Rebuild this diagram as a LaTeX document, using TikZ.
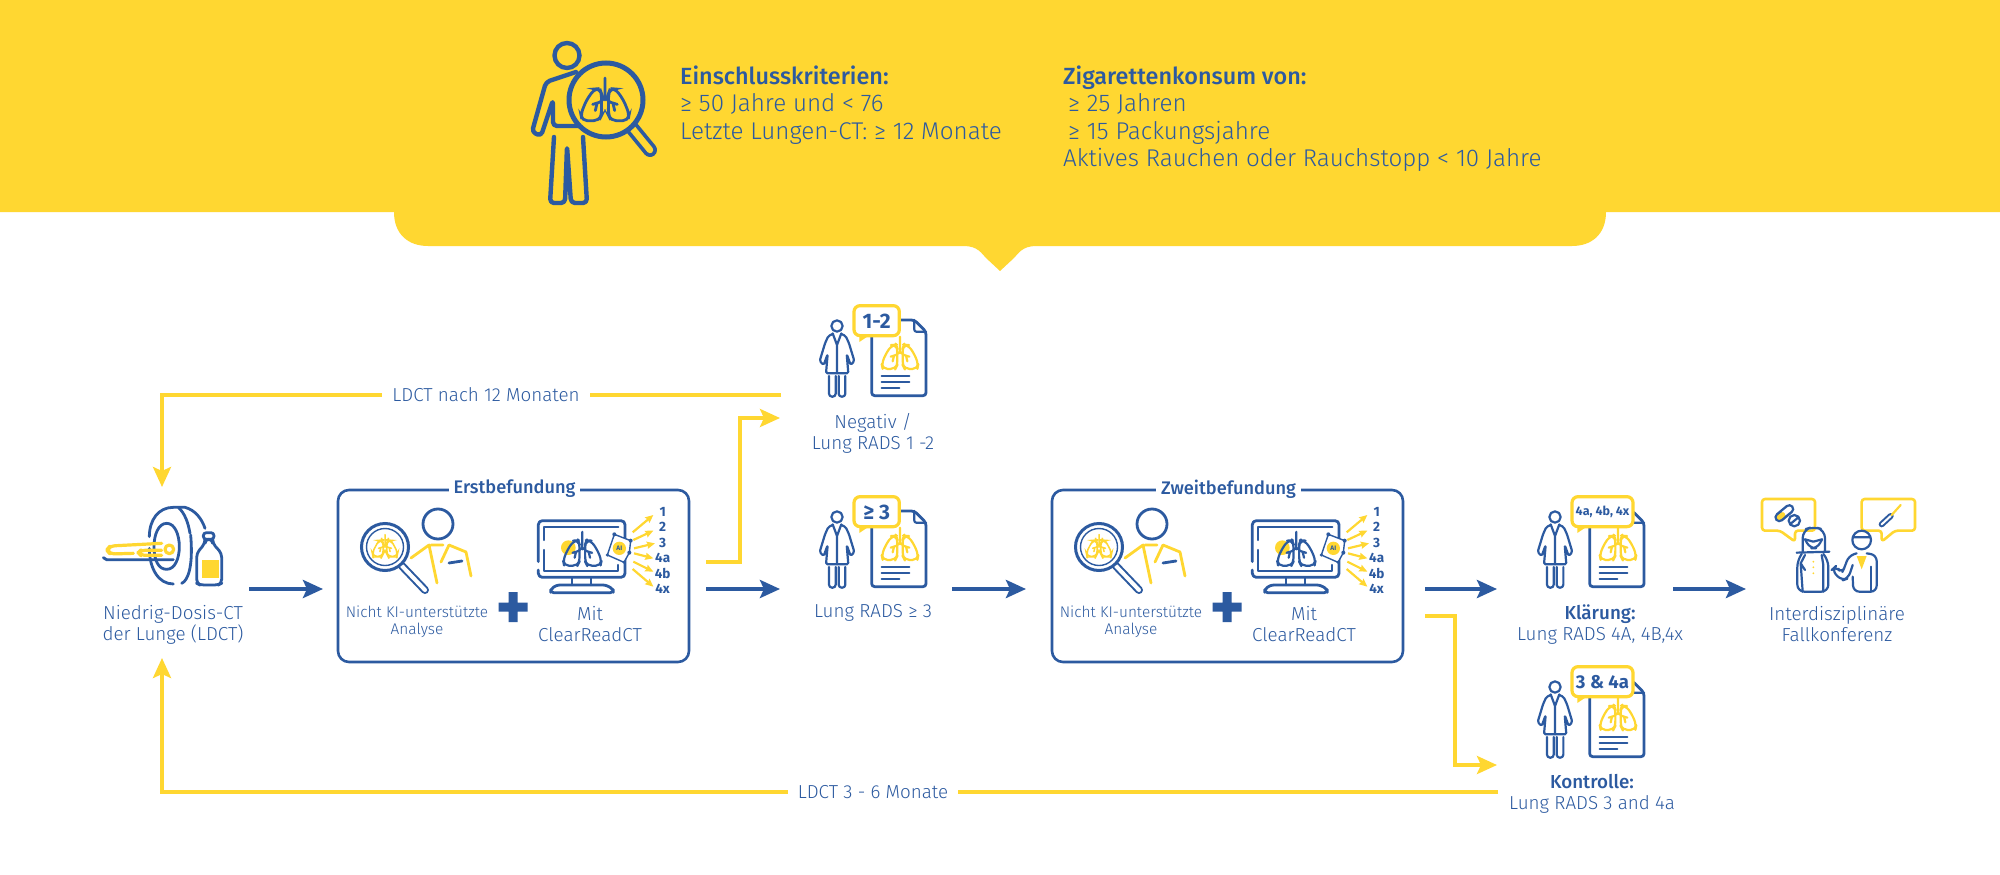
\documentclass[tikz,border=0pt]{standalone}
\usepackage{fontspec}
\setmainfont{Fira Sans Light}[BoldFont={Fira Sans Medium}]
\newfontfamily\lightf{Fira Sans Light}[BoldFont={Fira Sans Medium}]
\newfontfamily\bubf{Fira Sans}
\usetikzlibrary{arrows.meta}
\definecolor{ky}{HTML}{FFD731}
\definecolor{kb}{HTML}{2C5AA0}
\tikzset{
  x=1pt,y=-1pt,
  bl/.style={draw=kb,line width=2.8pt,line cap=round,line join=round},
  blt/.style={draw=kb,line width=2.2pt,line cap=round,line join=round},
  yl/.style={draw=ky,line width=2.8pt,line cap=round,line join=round},
  ylt/.style={draw=ky,line width=2.2pt,line cap=round,line join=round},
  flowb/.style={draw=kb,line width=4pt,-{Stealth[length=20pt,width=18pt,inset=4pt]}},
  flowy/.style={draw=ky,line width=3.6pt,-{Stealth[length=20pt,width=18pt,inset=4pt]}},
  flowyp/.style={draw=ky,line width=3.6pt},
  lab/.style={text=kb,align=center,font=\fontsize{18.8}{21}\selectfont,inner sep=0pt},
  labs/.style={text=kb,align=center,font=\fontsize{15.4}{18}\selectfont,inner sep=0pt},
  head/.style={text=kb,align=left,anchor=north west,font=\lightf\fontsize{24.2}{27.5}\selectfont,inner sep=0pt},
  bub/.style={text=kb,font=\bfseries,inner sep=0pt},
  grade/.style={text=kb,font=\bubf\bfseries\fontsize{13.5}{13.5}\selectfont,inner sep=0pt}
}
\newcommand\HeadBold[1]{{\bfseries\fontsize{23.4}{27.5}\selectfont #1}}
% lungs centred at the origin: width 110, height 100
\newcommand\LungsShape[1]{%
  \draw[#1] (0,-50) -- (0,0) (0,-5) -- (-12,5) -- (-28,10) (-18,7) -- (-22,24) (0,-5) -- (12,5) -- (28,10) (18,7) -- (22,24);
  \draw[#1,rounded corners=5pt] (-12,-26) -- (-24,-25) -- (-42,0) -- (-55,32) -- (-52,47) -- (-14,47) -- (-8,35) -- (-8,-15) -- cycle;
  \draw[#1,rounded corners=5pt] (12,-26) -- (24,-25) -- (42,0) -- (55,32) -- (52,47) -- (14,47) -- (8,35) -- (8,-15) -- cycle;
}
% #1 head centre, #2 bubble right edge, #3 bubble text, #4 font size, #5 name
\newcommand\DocIcon[5]{%
  \begin{scope}[shift={#1},scale=1/3,shift={(-171,-108)}]
    \draw[blt] (171,108) circle[radius=17];
    \draw[blt,rounded corners=1.5pt] (158,132) -- (145,138) -- (135,160) -- (119,213) -- (131,225) -- (143,192) -- (138,250) -- (205,250) -- (200,192) -- (212,225) -- (223,213) -- (207,160) -- (197,138) -- (184,132);
    \draw[blt] (158,130) -- (171,165) -- (184,130) (171,165) -- (171,250);
    \draw[blt,rounded corners=3pt] (147,258) -- (147,320) -- (167,320) -- (167,258);
    \draw[blt,rounded corners=3pt] (176,258) -- (176,320) -- (196,320) -- (196,258);
    \draw[bl,rounded corners=3pt] (275,130) -- (275,317) -- (438,317) -- (438,125) -- (403,90) -- (350,90);
    \draw[blt,rounded corners=2pt] (403,90) -- (403,125) -- (438,125);
    \draw[blt] (305,257) -- (388,257) (305,275) -- (388,275) (305,293) -- (358,293);
    \begin{scope}[shift={(360,190)}]
      \LungsShape{ylt}
    \end{scope}
    \fill[ky] (238,156) -- (268,136) -- (238,136) -- cycle;
    \draw[yl,fill=white,line width=3.2pt,rounded corners=6pt] (222,47) -- (#2,47) -- (#2,137) -- (222,137) -- cycle;
    \node[bub,font=\bubf\bfseries\fontsize{#4}{#4}\selectfont] (#5) at ({(222+#2)/2},93) {#3};
  \end{scope}
}
% both reading boxes
\newcommand\ReadBox[3]{%
  \begin{scope}[shift={(#1,0)}]
    \draw[kb,line width=2.6pt,rounded corners=11pt] (338,490) rectangle (689,662);
    \node[fill=white,text=kb,inner xsep=5pt,inner ysep=0pt,minimum height=14pt,font=\bfseries\fontsize{18.2}{21}\selectfont] (#2) at (514.5,489) {#3};
    % reader
    \draw[bl] (438,524) circle[radius=15];
    \draw[yl] (411,558) -- (429,545) -- (437,583) (431,545) -- (443,545) (449,545) -- (441,562) (449,545) -- (466,552) -- (471,576);
    \draw[bl] (449,563) -- (462,561);
    \draw[kb,line width=8pt,line cap=round] (402,566) -- (425,590);
    \draw[white,line width=4pt,line cap=round] (402,566) -- (425,590);
    \draw[kb,fill=white,line width=3pt] (385,547) circle[radius=23.5];
    \draw[kb,line width=1.4pt] (385,547) circle[radius=18.5];
    \begin{scope}[shift={(385,546)},scale=.23]
      \LungsShape{draw=ky,line width=1.5pt,line cap=round}
    \end{scope}
    \node[labs] (#2a) at (417,622) {Nicht KI-unterstützte\\[-1pt]Analyse};
    \node[lab] (#2c) at (590,624.5) {Mit\\ClearReadCT};
    \fill[kb] (508.5,592) rectangle (517.5,622) (498.5,602.5) rectangle (527.5,611.5);
    % monitor
    \begin{scope}[shift={(520,500)},scale=1/3]
      \fill[ky] (145,143) circle[radius=22];
      \draw[bl,rounded corners=4pt] (55,185) -- (55,62) -- (315,62) -- (315,232) -- (55,232) -- (55,210);
      \draw[blt] (72,150) -- (72,212) -- (295,212) -- (295,195) (72,120) -- (72,80) -- (295,80);
      \draw[blt] (155,232) -- (155,255) (212,232) -- (212,255);
      \draw[bl,rounded corners=3pt] (92,278) -- (92,268) -- (110,255) -- (258,255) -- (280,268) -- (280,278) -- cycle;
      \begin{scope}[shift={(187,148)},scale=1.05]
        \LungsShape{blt}
      \end{scope}
      \draw[blt,line width=1.4pt,fill=white] (283,103) -- (332,122) -- (328,158) -- (312,187) -- (262,165) -- cycle;
      \fill[ky] (298,145) circle[radius=20];
      \fill[kb] (283,103) circle[radius=6] (332,122) circle[radius=6] (328,158) circle[radius=6] (312,187) circle[radius=5] (262,165) circle[radius=5];
      \node[grade,font=\bubf\bfseries\fontsize{6.5}{7}\selectfont] at (298,146) {AI};
      \foreach \a/\b/\c/\d in {338/97/400/45,340/120/400/92,342/145/405/130,342/160/400/175,340/185/400/215,338/207/400/260}
        \draw[draw=ky,line width=2.2pt,-{Stealth[length=8pt,width=7pt,inset=1pt]}] (\a,\b) -- (\c,\d);
      \foreach \t/\y in {1/36,2/82,3/128,4a/173,4b/220,4x/266}
        \node[grade] at (428,\y) {\t};
    \end{scope}
  \end{scope}
}
\begin{document}
\begin{tikzpicture}
\useasboundingbox (0,0) rectangle (2000,875);
\fill[white] (0,0) rectangle (2000,875);
% banner
\fill[ky] (0,0) -- (2000,0) -- (2000,212) -- (1606,212) .. controls (1606,234) and (1592,246) .. (1572,246) -- (1036,246) .. controls (1022,246) and (1018,254) .. (1014,258) -- (1000,271) -- (986,258) .. controls (982,254) and (978,246) .. (964,246) -- (428,246) .. controls (408,246) and (394,234) .. (394,212) -- (0,212) -- cycle;
% header figure
\begin{scope}
  \draw[kb,line width=4.4pt] (567,55.5) circle[radius=12.5];
  \draw[kb,line width=4.4pt,line cap=round,line join=round,rounded corners=4pt] (576,72) -- (546,82) -- (532,132) -- (541,136) -- (553,100) -- (553,126) -- (578,126);
  \draw[kb,line width=4.4pt,line cap=round,line join=round,rounded corners=4pt] (554,137) -- (550,203) -- (565,203) -- (567,146) -- (571,203) -- (587,203) -- (583,137);
  \draw[kb,line width=14pt,line cap=round] (632,128) -- (650,150);
  \draw[ky,line width=6.5pt,line cap=round] (632,128) -- (650,150);
  \draw[kb,fill=ky,line width=5pt] (606,100) circle[radius=37];
  \begin{scope}[shift={(605,100)},scale=.44]
    \LungsShape{draw=kb,line width=2.8pt,line cap=round}
  \end{scope}
\end{scope}
\node[head] (crit) at (680,65.5) {\HeadBold{Einschlusskriterien:}\\≥ 50 Jahre und < 76\\Letzte Lungen-CT: ≥ 12 Monate};
\node[head] (smoke) at (1063,65.5) {\HeadBold{Zigarettenkonsum von:}\\\hspace*{5pt}≥ 25 Jahren\\\hspace*{5pt}≥ 15 Packungsjahre\\Aktives Rauchen oder Rauchstopp < 10 Jahre};
% scanner
\begin{scope}[shift={(90,490)},scale=1/3]
  \draw[bl] (178,140) .. controls (178,90) and (205,52) .. (250,52) -- (285,52) .. controls (315,60) and (335,85) .. (345,115);
  \draw[bl] (178,175) .. controls (178,235) and (205,282) .. (250,282);
  \draw[bl] (275,280) .. controls (295,272) and (310,225) .. (302,135);
  \draw[bl] (265,52) .. controls (285,70) and (295,100) .. (300,130);
  \draw[bl] (230,100) .. controls (205,100) and (192,135) .. (192,170) .. controls (192,210) and (205,238) .. (230,238) .. controls (255,238) and (268,205) .. (268,170) .. controls (268,135) and (255,100) .. (230,100);
  \draw[kb,line width=2.8pt,line cap=round] (40,203) -- (50,209) -- (250,209);
  \draw[yl,line width=3.2pt,rounded corners=5pt] (130,190) -- (60,192) -- (50,180) -- (60,168) -- (215,160);
  \draw[yl,line width=3.2pt,rounded corners=4pt] (215,181) -- (152,181) -- (145,188) -- (152,196) -- (215,196);
  \draw[yl,line width=3.2pt,fill=white] (238,178) circle[radius=13];
  \fill[ky] (335,210) rectangle (388,265);
  \draw[bl,rounded corners=4pt] (320,280) -- (320,190) -- (345,160) -- (345,148) -- (368,148) -- (368,160) -- (395,190) -- (395,280) -- (385,285) -- (330,285) -- cycle;
  \draw[bl,rounded corners=3pt] (340,148) -- (340,128) -- (372,128) -- (372,148) -- cycle;
\end{scope}
\node[lab] (ldct) at (173,624.5) {Niedrig-Dosis-CT\\der Lunge (LDCT)};
\ReadBox{0}{erst}{Erstbefundung}
\ReadBox{714}{zweit}{Zweitbefundung}
\DocIcon{(837,326)}{358}{1-2}{21}{b12}
\DocIcon{(837,517)}{358}{≥ 3}{21}{b3}
\DocIcon{(1555,517)}{405}{4a, 4b, 4x}{12.5}{b4}
\DocIcon{(1555,687)}{405}{3 \& 4a}{18.5}{b34}
\node[lab] (neg) at (873,433.5) {Negativ /\\Lung RADS 1 -2};
\node[lab] (ge3) at (873,613) {Lung RADS ≥ 3};
\node[lab] (klar) at (1600,624.5) {\textbf{Klärung:}\\Lung RADS 4A, 4B,4x};
\node[lab] (kont) at (1592,793.5) {\textbf{Kontrolle:}\\Lung RADS 3 and 4a};
\node[lab] (fall) at (1837,624.5) {Interdisziplinäre\\Fallkonferenz};
% conference icon
\begin{scope}[shift={(1480,480)},scale=1/3]
  \draw[yl,rounded corners=3pt,line width=2.6pt] (846,57) -- (1005,57) -- (1005,152) -- (945,152) -- (945,185) -- (900,152) -- (846,152) -- cycle;
  \draw[yl,rounded corners=3pt,line width=2.6pt] (1145,57) -- (1305,57) -- (1305,152) -- (1245,152) -- (1205,185) -- (1205,152) -- (1145,152) -- cycle;
  \draw[kb,line width=10pt,line cap=round] (898,112) -- (928,87);
  \draw[white,line width=5pt,line cap=round] (912,100) -- (928,87);
  \draw[ky,line width=5pt,line cap=round] (898,112) -- (908,104);
  \draw[blt,fill=white] (943,122) circle[radius=17] (932,131) -- (954,113);
  \draw[kb,line width=6pt,line cap=round] (1205,133) -- (1232,108);
  \draw[white,line width=2pt,line cap=round] (1205,133) -- (1232,108);
  \draw[ylt] (1235,105) -- (1262,75);
  \draw[blt,rounded corners=8pt] (968,215) -- (968,150) -- (1000,140) -- (1035,150) -- (1035,215);
  \draw[blt,rounded corners=6pt] (975,178) -- (990,205) -- (1012,205) -- (1026,178);
  \draw[blt] (975,178) -- (1000,185) -- (1026,178);
  \draw[blt] (950,218) -- (1048,215);
  \draw[blt,rounded corners=7pt] (965,222) -- (952,240) -- (952,335) -- (1045,335) -- (1045,240) -- (1030,222);
  \draw[blt] (975,225) -- (962,250) -- (968,335) (1025,225) -- (1030,255) -- (1030,335) (962,250) -- (975,270);
  \fill[ky] (1000,245) circle[radius=3] (1000,262) circle[radius=3] (1000,280) circle[radius=3];
  \draw[blt] (1145,180) circle[radius=28] (1118,172) -- (1172,172);
  \fill[ky] (1130,228) -- (1160,228) -- (1145,268) -- cycle;
  \draw[blt,rounded corners=6pt] (1160,220) -- (1190,225) -- (1190,335) -- (1120,335) -- (1118,290);
  \draw[blt,rounded corners=6pt] (1130,220) -- (1105,228) -- (1095,260) -- (1085,280) -- (1068,258) -- (1055,270) -- (1085,302) -- (1105,295) -- (1118,255);
  \draw[blt] (1172,260) -- (1172,335);
\end{scope}
% connector end points
\coordinate (scanTop) at (162,487);
\coordinate (scanBot) at (162,658);
\coordinate (a1) at (249,589);
\coordinate (a1e) at (323,589);
\coordinate (a2) at (706,589);
\coordinate (a2e) at (780,589);
\coordinate (a3) at (952,589);
\coordinate (a3e) at (1026,589);
\coordinate (a4) at (1425,589);
\coordinate (a4e) at (1497,589);
\coordinate (a5) at (1673,589);
\coordinate (a5e) at (1746,589);
\coordinate (ny) at (706,562);
\coordinate (nc) at (740,418);
\coordinate (nye) at (780,418);
\coordinate (ky1) at (1425,616);
\coordinate (kc) at (1455,765);
\coordinate (kye) at (1497,765);
\coordinate (r1) at (781,395);
\coordinate (r2) at (1498,792);
\node[lab,inner xsep=10pt,inner ysep=3pt] (l12) at (486,395) {LDCT nach 12 Monaten};
\node[lab,inner xsep=10pt,inner ysep=3pt] (l36) at (873,792) {LDCT 3 - 6 Monate};
\draw[flowb] (a1) -- (a1e);
\draw[flowb] (a2) -- (a2e);
\draw[flowb] (a3) -- (a3e);
\draw[flowb] (a4) -- (a4e);
\draw[flowb] (a5) -- (a5e);
\draw[flowy] (ny) -- (nc |- ny) -- (nc) -- (nye);
\draw[flowy] (ky1) -- (kc |- ky1) -- (kc) -- (kye);
\draw[flowyp] (r1) -- (l12);
\draw[flowy] (l12) -- (scanTop |- l12) -- (scanTop);
\draw[flowyp] (r2) -- (l36);
\draw[flowy] (l36) -- (scanBot |- l36) -- (scanBot);
\end{tikzpicture}
\end{document}
